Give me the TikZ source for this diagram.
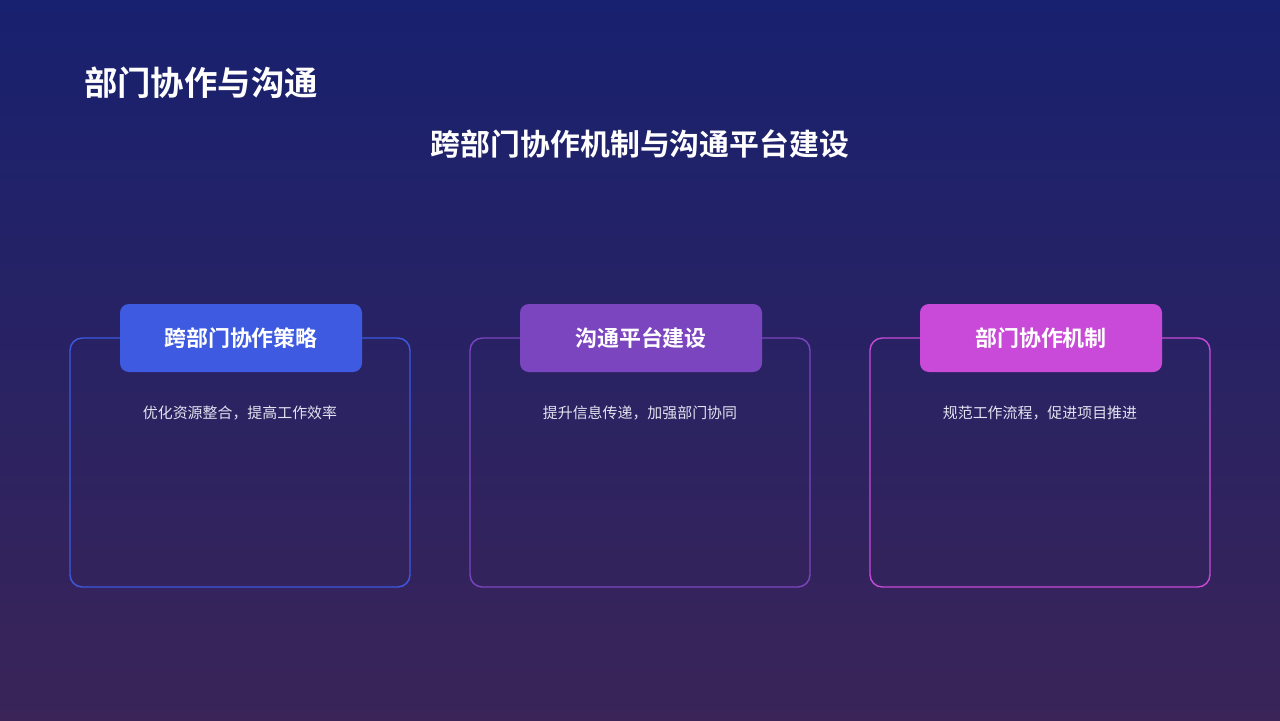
\documentclass[tikz,border=0pt]{standalone}
\usepackage{fontspec}
\newfontfamily\cjk{Noto Sans CJK SC}
\newfontfamily\cjkb{Noto Sans CJK SC Bold}
\definecolor{bgtop}{HTML}{18216F}
\definecolor{bgbot}{HTML}{3A2458}
\definecolor{cA}{HTML}{3D5AE0}
\definecolor{cB}{HTML}{7B45C0}
\definecolor{cC}{HTML}{C94AD8}
\definecolor{desc}{HTML}{E2E2F0}
\tikzset{
  card/.style={draw=#1, line width=0.8pt, rounded corners=7pt, minimum width=340*0.02cm, minimum height=249*0.02cm},
  tag/.style={fill=#1, rounded corners=5pt, minimum width=242*0.02cm, minimum height=68*0.02cm, text=white, font=\cjkb\fontsize{12.5}{14}\selectfont},
  desctext/.style={text=desc, font=\cjk\fontsize{8.5}{10}\selectfont}
}
\begin{document}
\begin{tikzpicture}[x=0.02cm,y=-0.02cm]
\shade[top color=bgtop, bottom color=bgbot] (0,0) rectangle (1280,720);
\useasboundingbox (0,0) rectangle (1280,720);
\node[anchor=west, text=white, font=\cjkb\fontsize{19}{22}\selectfont] (title) at (78,83) {部门协作与沟通};
\node[text=white, font=\cjkb\fontsize{17}{20}\selectfont] (sub) at (640,144) {跨部门协作机制与沟通平台建设};
\foreach \i/\cx/\c/\t/\d in {1/240/cA/跨部门协作策略/{优化资源整合，提高工作效率},2/640/cB/沟通平台建设/{提升信息传递，加强部门协同},3/1040/cC/部门协作机制/{规范工作流程，促进项目推进}}{
  \node[card=\c] (card\i) at (\cx,462.5) {};
  \node[tag=\c] (tag\i) at (\cx+1,338) {\t};
  \node[desctext] (desc\i) at (\cx,413) {\d};
}
\end{tikzpicture}
\end{document}
